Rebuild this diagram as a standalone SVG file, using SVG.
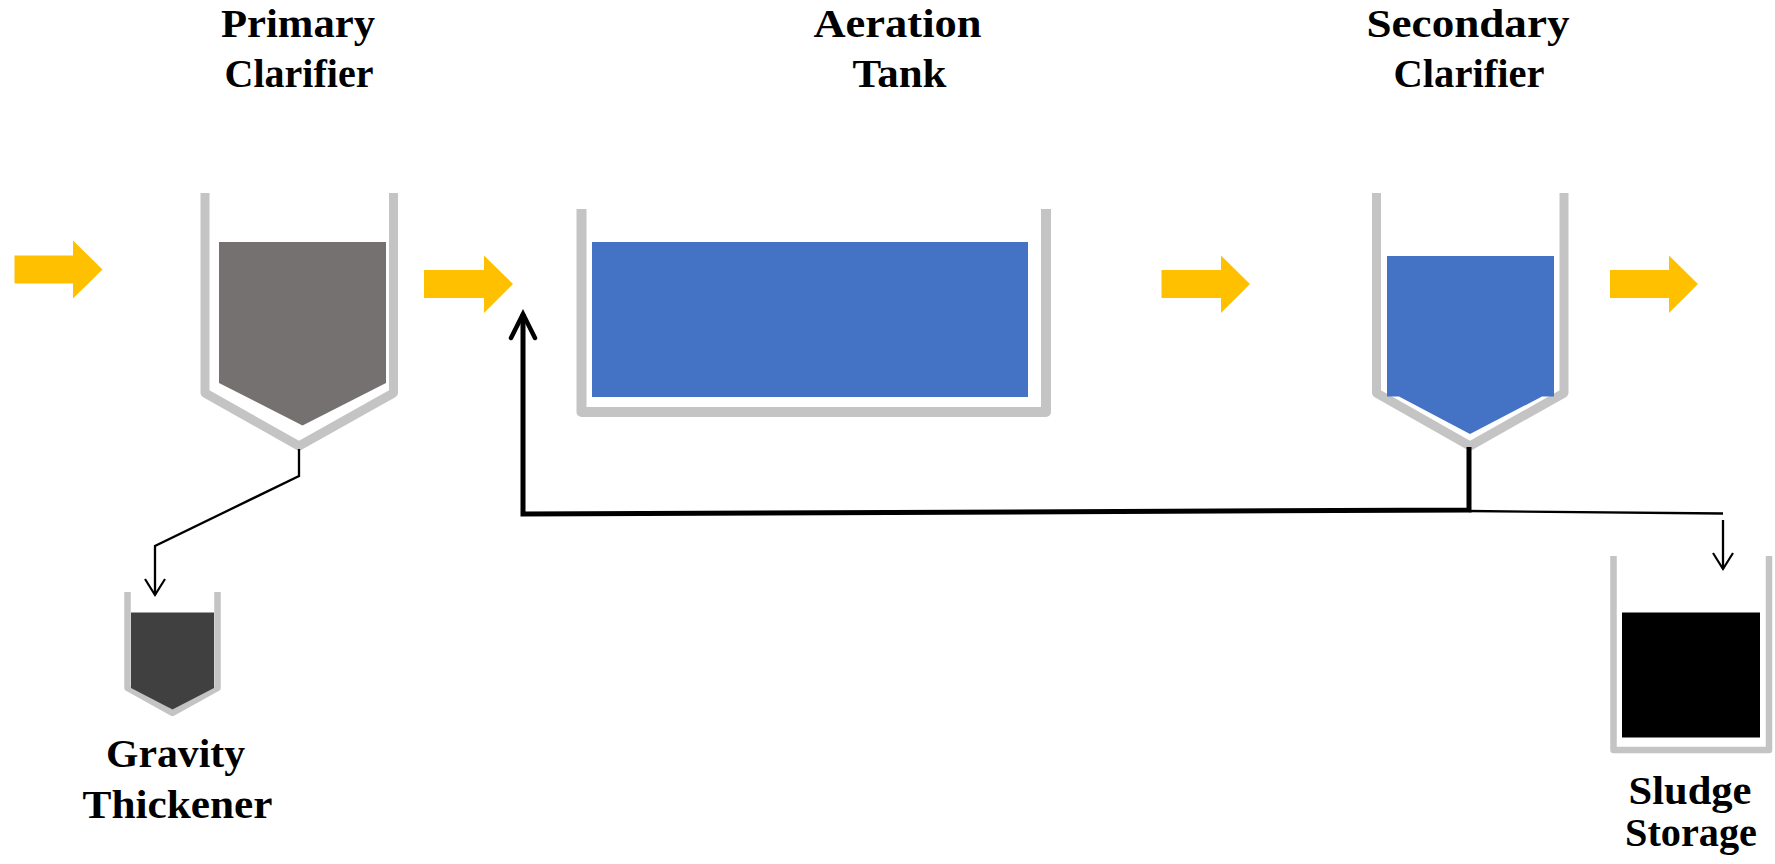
<svg xmlns="http://www.w3.org/2000/svg" width="1775" height="864" viewBox="0 0 1775 864">
  <style>
    .label { font-family: "Liberation Serif", "Times New Roman", serif; font-weight: bold; font-size: 41px; fill: #000; text-anchor: middle; }
    .wall { fill: none; stroke: #c4c4c4; stroke-linejoin: round; }
    .flow { fill: #ffc000; }
    .pipe { fill: none; stroke: #000; stroke-linejoin: miter; }
    .pipe-thick { stroke-width: 5; }
    .pipe-thin { stroke-width: 2.3; }
  </style>
  <defs>
    <!-- open V arrowheads, sized in user space -->
    <marker id="head-thick" markerUnits="userSpaceOnUse" markerWidth="34" markerHeight="34" viewBox="-28 -17 34 34" refX="0" refY="0" orient="auto">
      <path d="M-24,-12 L0,0 L-24,12" fill="none" stroke="#000" stroke-width="4.5" stroke-linecap="round" stroke-linejoin="miter"/>
    </marker>
    <marker id="head-thin" markerUnits="userSpaceOnUse" markerWidth="26" markerHeight="26" viewBox="-20 -13 26 26" refX="0" refY="0" orient="auto">
      <path d="M-16,-10 L0,0 L-16,10" fill="none" stroke="#000" stroke-width="2.2" stroke-linejoin="miter"/>
    </marker>
  </defs>

  <rect width="1775" height="864" fill="#fff"/>

  <!-- flow arrows between stages -->
  <g id="flow-arrows">
    <polygon class="flow" points="14.5,255.5 73,255.5 73,240.5 102.5,269.5 73,298.5 73,283.5 14.5,283.5"/>
    <polygon class="flow" points="424,270 484,270 484,255.5 513,284 484,313 484,298 424,298"/>
    <polygon class="flow" points="1161.5,270 1221,270 1221,255.5 1250,284 1221,313 1221,298 1161.5,298"/>
    <polygon class="flow" points="1610,270 1669,270 1669,255.5 1698,284 1669,313 1669,298 1610,298"/>
  </g>

  <!-- primary clarifier -->
  <g id="primary-clarifier">
    <path class="wall" stroke-width="9" d="M205,193 V393 L299,446 L393.5,393 V193"/>
    <polygon fill="#767171" points="219,242 386,242 386,383 302.5,425.5 219,383"/>
    <text class="label" x="298" y="37" textLength="154" lengthAdjust="spacingAndGlyphs">Primary</text>
    <text class="label" x="299" y="87" textLength="149" lengthAdjust="spacingAndGlyphs">Clarifier</text>
  </g>

  <!-- aeration tank -->
  <g id="aeration-tank">
    <path class="wall" stroke-width="10" d="M581.5,209 V412 H1046 V209"/>
    <rect x="592" y="242" width="436" height="155" fill="#4472c4"/>
    <text class="label" x="897.5" y="37" textLength="168" lengthAdjust="spacingAndGlyphs">Aeration</text>
    <text class="label" x="899.5" y="87" textLength="94" lengthAdjust="spacingAndGlyphs">Tank</text>
  </g>

  <!-- secondary clarifier -->
  <g id="secondary-clarifier">
    <path class="wall" stroke-width="9" d="M1376.5,193 V393 L1470,446 L1564,393 V193"/>
    <polygon fill="#4472c4" points="1387,256 1554,256 1554,396.5 1542,396.5 1470,434 1399,396.5 1387,396.5"/>
    <text class="label" x="1468" y="37" textLength="203" lengthAdjust="spacingAndGlyphs">Secondary</text>
    <text class="label" x="1469" y="87" textLength="151" lengthAdjust="spacingAndGlyphs">Clarifier</text>
  </g>

  <!-- gravity thickener -->
  <g id="gravity-thickener">
    <path class="wall" stroke-width="6.5" d="M127.5,592 V688 L172.5,713 L217.5,688 V592"/>
    <polygon fill="#404040" points="131,612.5 214,612.5 214,688 172.5,709.5 131,688"/>
    <text class="label" x="175.5" y="767" textLength="139" lengthAdjust="spacingAndGlyphs">Gravity</text>
    <text class="label" x="177.5" y="818" textLength="190" lengthAdjust="spacingAndGlyphs">Thickener</text>
  </g>

  <!-- sludge storage -->
  <g id="sludge-storage">
    <path class="wall" stroke-width="6.5" d="M1613.5,556 V750 H1769 V556"/>
    <rect x="1622" y="612.5" width="138" height="125" fill="#000"/>
    <text class="label" x="1690" y="804" textLength="123" lengthAdjust="spacingAndGlyphs">Sludge</text>
    <text class="label" x="1691" y="846" textLength="132" lengthAdjust="spacingAndGlyphs">Storage</text>
  </g>

  <!-- sludge piping -->
  <g id="connectors">
    <path class="pipe pipe-thin" d="M299,449 V476 L155,546 V595" marker-end="url(#head-thin)"/>
    <path class="pipe pipe-thick" d="M1469,447 V510 L523,514 V314" marker-end="url(#head-thick)"/>
    <path class="pipe pipe-thin" d="M1469,511 L1723,513.5"/>
    <path class="pipe pipe-thin" d="M1723,520 V569" marker-end="url(#head-thin)"/>
  </g>
</svg>
